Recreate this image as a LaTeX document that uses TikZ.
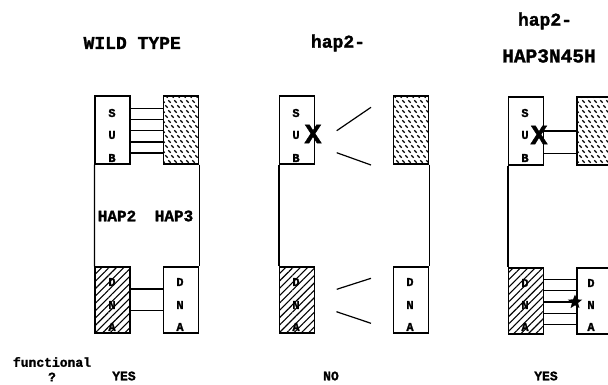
\documentclass[tikz,border=0pt]{standalone}
\usepackage{fontspec}
\setmainfont{Liberation Mono}[BoldFeatures={FakeBold=1.6}]
\usetikzlibrary{patterns,patterns.meta,shapes.geometric}
\pgfdeclarepatternformonly{dashhatch}{\pgfqpoint{-1pt}{-1pt}}{\pgfqpoint{7pt}{11pt}}{\pgfqpoint{6pt}{10pt}}{%
  \pgfsetlinewidth{1.1pt}%
  \pgfpathmoveto{\pgfqpoint{0.3pt}{3.7pt}}%
  \pgfpathlineto{\pgfqpoint{2.7pt}{1.3pt}}%
  \pgfusepath{stroke}%
  \pgfpathmoveto{\pgfqpoint{3.3pt}{8.7pt}}%
  \pgfpathlineto{\pgfqpoint{5.7pt}{6.3pt}}%
  \pgfusepath{stroke}%
}
\begin{document}
\begin{tikzpicture}[x=1pt,y=-1pt,line width=1.2pt,
  pbox/.style={draw,line width=1.2pt,inner sep=0pt,minimum width=35pt},
  subbox/.style={pbox,minimum height=68pt},
  dnabox/.style={pbox,minimum height=66pt},
  hap3box/.style={subbox,pattern=dashhatch},
  hatchbox/.style={dnabox,pattern={Lines[angle=45,distance=5.2pt,line width=1.1pt]}},
  lett/.style={font=\bfseries\fontsize{12}{12}\selectfont,inner sep=0pt},
  title/.style={font=\bfseries\fontsize{18}{18}\selectfont,inner sep=0pt},
  midlbl/.style={font=\bfseries\fontsize{16}{16}\selectfont,inner sep=0pt},
  answer/.style={font=\bfseries\fontsize{13}{13}\selectfont,inner sep=0pt},
  cross/.style={font=\bfseries\fontsize{28}{28}\selectfont,inner sep=0pt},
  link/.style={line width=1.2pt},
  broken/.style={line width=1.2pt}]
\useasboundingbox (0,0) rectangle (608,384);
\clip (0,0) rectangle (608,384);

% ---------- titles
\node[title,anchor=west] (t1) at (83,43) {WILD TYPE};
\node[title] (t2) at (338,43) {hap2-};
\node[title] (t3a) at (545,21) {hap2-};
\node[title,font=\bfseries\fontsize{19.5}{19.5}\selectfont] (t3b) at (549,56) {HAP3N45H};

% ---------- WILD TYPE
\node[subbox] (wS) at (112.5,130) {};
\node[hap3box] (wH) at (181,130) {};
\node[hatchbox] (wDl) at (112.5,300) {};
\node[dnabox] (wDr) at (181,300) {};
\draw (wS.south west) -- (wDl.north west);
\draw (wH.south east) -- (wDr.north east);
\foreach \y in {108.3,119.5,130.7,141.9,153}
  \draw[link] (wS.east |- 0,\y) -- (wH.west |- 0,\y);
\foreach \y in {289,310.7}
  \draw[link] (wDl.east |- 0,\y) -- (wDr.west |- 0,\y);
\node[lett] (wS1) at (112,113) {S};
\node[lett] (wS2) at (112,135) {U};
\node[lett] (wS3) at (112,158) {B};
\node[lett] (wD1) at (112,282) {D};
\node[lett] (wD2) at (112,305) {N};
\node[lett] (wD3) at (112,327) {A};
\node[lett] (wR1) at (180,282) {D};
\node[lett] (wR2) at (180,305) {N};
\node[lett] (wR3) at (180,327) {A};
\node[midlbl] (hap2) at (117,216) {HAP2};
\node[midlbl] (hap3) at (174,216) {HAP3};

% ---------- hap2-
\node[subbox] (bS) at (297,130) {};
\node[hap3box] (bH) at (411,130) {};
\node[hatchbox] (bDl) at (297,300) {};
\node[dnabox] (bDr) at (411,300) {};
\draw (bS.south west) -- (bDl.north west);
\draw (bH.south east) -- (bDr.north east);
\node[lett] (bS1) at (296,113) {S};
\node[lett] (bS2) at (296,135) {U};
\node[lett] (bS3) at (296,158) {B};
\node[lett] (bD1) at (296,282) {D};
\node[lett] (bD2) at (296,305) {N};
\node[lett] (bD3) at (296,327) {A};
\node[lett] (bR1) at (410,282) {D};
\node[lett] (bR2) at (410,305) {N};
\node[lett] (bR3) at (410,327) {A};
\node[cross] (bX) at (313,134) {X};
\coordinate (b1a) at (336.7,130.7); \coordinate (b1b) at (371,107.3);
\coordinate (b2a) at (336.7,152.7); \coordinate (b2b) at (371,165);
\coordinate (b3a) at (336.7,289.3); \coordinate (b3b) at (371,278.3);
\coordinate (b4a) at (336.5,311.7); \coordinate (b4b) at (371,323.3);
\draw[broken] (b1a) -- (b1b);
\draw[broken] (b2a) -- (b2b);
\draw[broken] (b3a) -- (b3b);
\draw[broken] (b4a) -- (b4b);

% ---------- hap2- HAP3N45H
\node[subbox] (cS) at (526,131) {};
\node[hap3box] (cH) at (594.5,131) {};
\node[hatchbox] (cDl) at (526,301) {};
\node[dnabox] (cDr) at (594.5,301) {};
\draw (cS.south west) -- (cDl.north west);
\draw (cH.south east) -- (cDr.north east);
\foreach \y in {131,153.3}
  \draw[link] (cS.east |- 0,\y) -- (cH.west |- 0,\y);
\foreach \y in {279.5,290.8,302,313.3,324.5}
  \draw[link] (cDl.east |- 0,\y) -- (cDr.west |- 0,\y);
\node[lett] (cS1) at (525,113) {S};
\node[lett] (cS2) at (525,135) {U};
\node[lett] (cS3) at (525,158) {B};
\node[lett] (cD1) at (525,283) {D};
\node[lett] (cD2) at (525,305) {N};
\node[lett] (cD3) at (525,327) {A};
\node[lett] (cR1) at (591,283) {D};
\node[lett] (cR2) at (591,305) {N};
\node[lett] (cR3) at (591,327) {A};
\node[cross] (cX) at (539,135) {X};
\node[star,star points=5,star point ratio=2.3,fill=black,inner sep=0pt,minimum size=15pt] (cStar) at (575,302) {};

% ---------- bottom row
\node[answer] (func) at (52,362) {functional};
\node[answer] (qm) at (52,377) {?};
\node[answer] (yes1) at (124,376) {YES};
\node[answer] (no) at (331,376) {NO};
\node[answer] (yes2) at (546,376) {YES};
\end{tikzpicture}
\end{document}
